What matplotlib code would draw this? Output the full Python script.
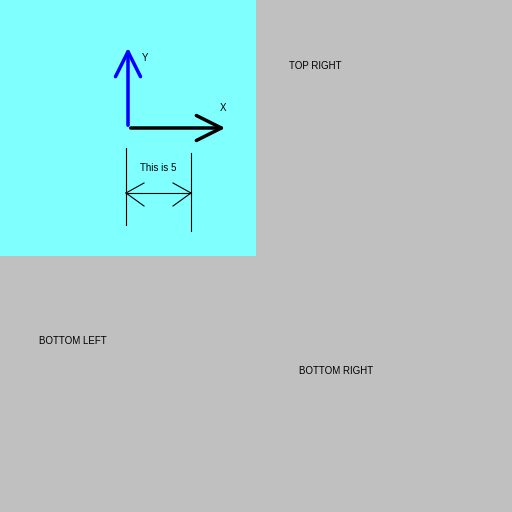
import matplotlib
matplotlib.use("Agg")
import matplotlib.pyplot as plt
from matplotlib.patches import Rectangle, FancyArrowPatch

labels = ["TOP RIGHT", "BOTTOM LEFT", "BOTTOM RIGHT"]
label_pos = [(289, 66), (39, 341), (299, 371)]
origin = (128, 128)
x_tip = (228, 128)
y_tip = (128, 45)
dim_x = [126, 191]
dim_text = "This is 5"

fig = plt.figure(figsize=(5.12, 5.12), dpi=100)
fig.patch.set_facecolor("#c0c0c0")
ax = fig.add_axes([0, 0, 1, 1])
ax.set_xlim(0, 512); ax.set_ylim(512, 0); ax.axis("off")
ax.add_patch(Rectangle((0, 0), 256, 256, color="#80ffff", lw=0))

ax.add_patch(FancyArrowPatch(origin, y_tip, arrowstyle="->,head_length=6,head_width=3",
                             color="blue", lw=2.5, mutation_scale=3))
ax.add_patch(FancyArrowPatch(origin, x_tip, arrowstyle="->,head_length=6,head_width=3",
                             color="black", lw=2.5, mutation_scale=3))
ax.text(142, 58, "Y", fontsize=7, family="Liberation Sans", va="center")
ax.text(220, 108, "X", fontsize=7, family="Liberation Sans", va="center")

ax.plot([dim_x[0]]*2, [148, 225], color="black", lw=0.8)
ax.plot([dim_x[1]]*2, [153, 231], color="black", lw=0.8)
ax.plot([dim_x[0], dim_x[1]], [193, 193], color="black", lw=0.8)
for x0, s in [(dim_x[0], 1), (dim_x[1], -1)]:
    ax.plot([x0, x0 + s*18], [193, 183], color="black", lw=0.8)
    ax.plot([x0, x0 + s*18], [193, 206], color="black", lw=0.8)
ax.text(158, 168, dim_text, fontsize=7, family="Liberation Sans", ha="center", va="center")

for t, (x, y) in zip(labels, label_pos):
    ax.text(x, y, t, fontsize=7, family="Liberation Sans", va="center")

fig.savefig("out.png", dpi=100, facecolor=fig.get_facecolor())
